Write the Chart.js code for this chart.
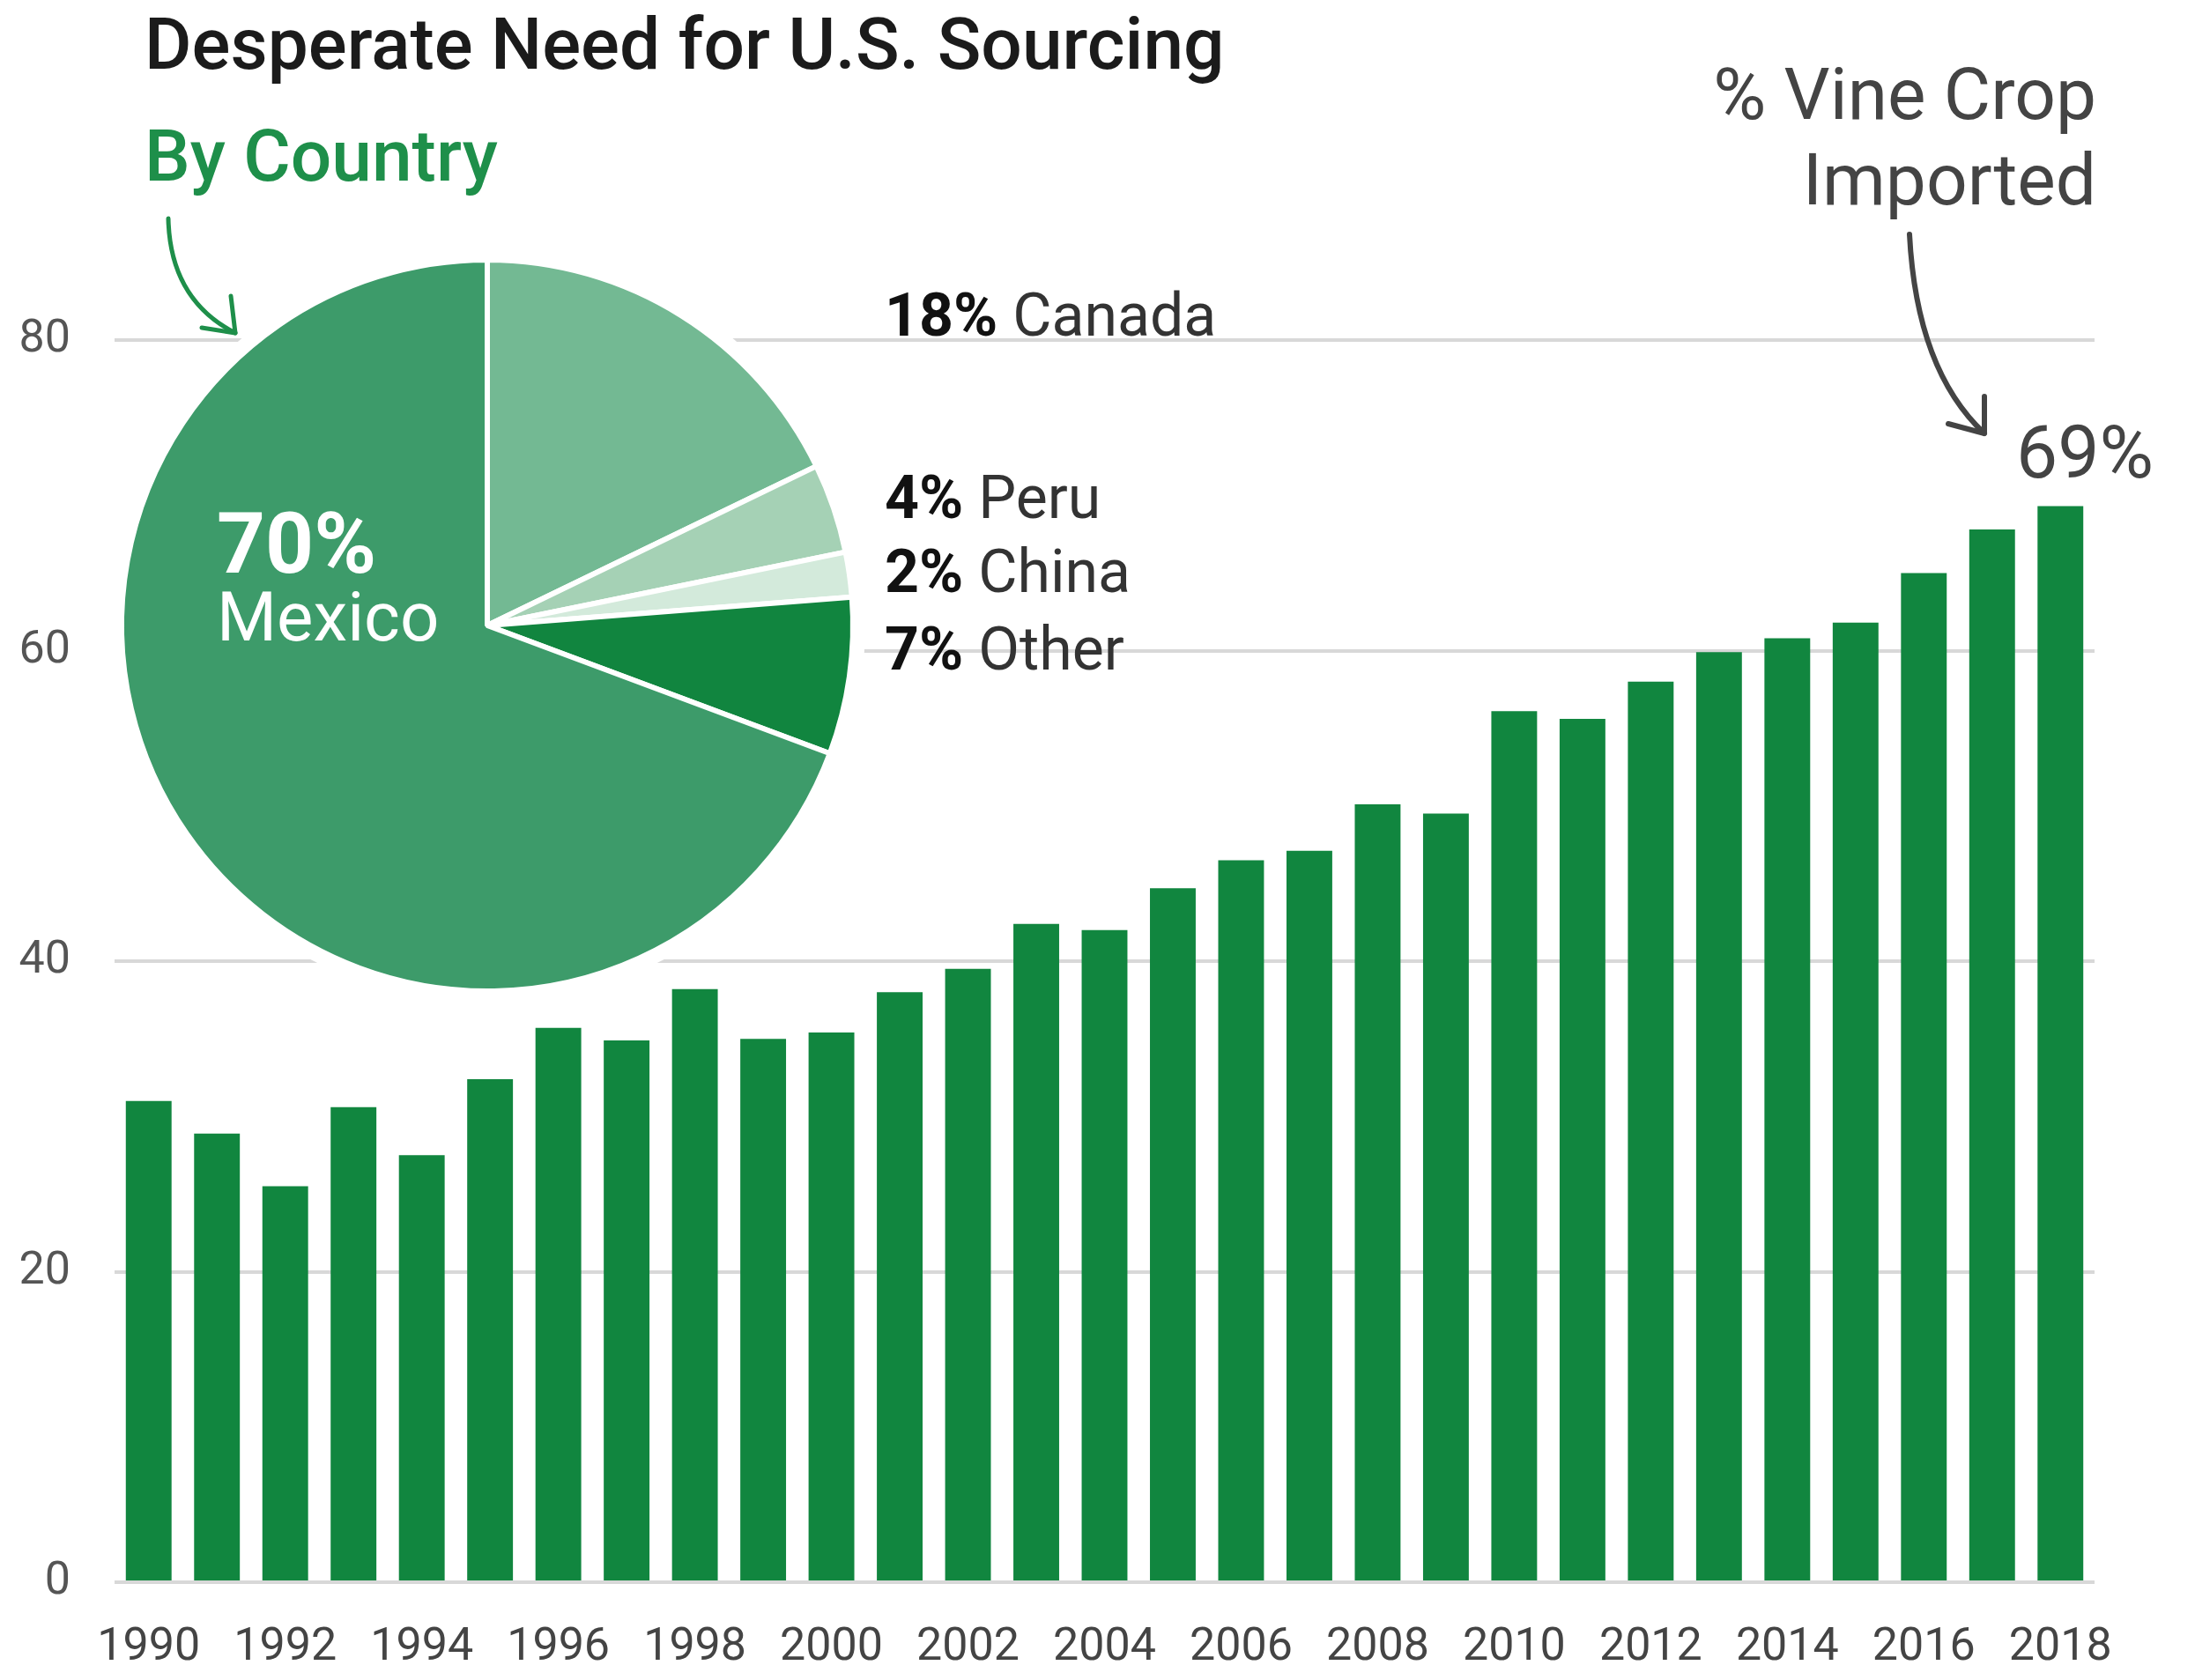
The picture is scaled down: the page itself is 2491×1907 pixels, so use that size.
<!DOCTYPE html>
<html>
<head>
<meta charset="utf-8">
<script src="https://cdn.jsdelivr.net/npm/chart.js@4.4.1/dist/chart.umd.min.js"></script>
<style>
  html, body { margin: 0; padding: 0; background: #fff; }
  #page { position: relative; width: 2491px; height: 1907px; overflow: hidden; font-family: Roboto, "Noto Sans", sans-serif; }
  #barChart { position: absolute; left: 0; top: 0; }
  #pieChart { position: absolute; left: 103px; top: 260px; }
  .txt { position: absolute; line-height: 1; white-space: nowrap; }
  #arrows { position: absolute; left: 0; top: 0; }
</style>
</head>
<body>
<div id="page">
  <canvas id="barChart" width="2491" height="1907"></canvas>
  <canvas id="pieChart" width="900" height="900"></canvas>
  <svg id="arrows" width="2491" height="1907">
    <g fill="none" stroke-linecap="round" stroke-linejoin="round">
      <path d="M191,248 Q193,340 267,378" stroke="#1e8f4a" stroke-width="5"/>
      <path d="M229,372 L267,378 L262,336" stroke="#1e8f4a" stroke-width="5"/>
      <path d="M2167,266 Q2175,420 2252,492" stroke="#444" stroke-width="6"/>
      <path d="M2211,481 L2252,492 L2252,450" stroke="#444" stroke-width="6"/>
    </g>
  </svg>
  <div class="txt" style="left:164px; top:9px; font-size:82px; font-weight:500; color:#1b1b1b;">Desperate Need for U.S. Sourcing</div>
  <div class="txt" style="left:164px; top:136px; font-size:82px; font-weight:500; color:#1e8f4a;">By Country</div>
  <div class="txt" style="right:112px; top:66px; font-size:82px; color:#444; text-align:right;">% Vine Crop<br><span style="display:inline-block; margin-top:15px;">Imported</span></div>
  <div id="lastLabel" class="txt" style="left:2288px; top:472px; font-size:84px; color:#444;"></div>
  <div id="pieLabels"></div>
</div>

<script>
// bar data: % of vine crop imported, by year
const years = ['1990', '1991', '1992', '1993', '1994', '1995', '1996', '1997', '1998', '1999',
               '2000', '2001', '2002', '2003', '2004', '2005', '2006', '2007', '2008', '2009',
               '2010', '2011', '2012', '2013', '2014', '2015', '2016', '2017', '2018'];
const importShare = [31.0, 28.9, 25.5, 30.6, 27.5, 32.4, 35.7, 34.9, 38.2, 35.0,
                     35.4, 38.0, 39.5, 42.4, 42.0, 44.7, 46.5, 47.1, 50.1, 49.5,
                     56.1, 55.6, 58.0, 59.9, 60.8, 61.8, 65.0, 67.8, 69.3];
const yTicks = [0, 20, 40, 60, 80];

// pie data: share by country
const countries = ['Canada', 'Peru', 'China', 'Other', 'Mexico'];
const countryShare = [18, 4, 2, 7, 70];
const sliceColors = ['#73b993', '#a5d1b5', '#d3eadb', '#11853f', '#3d9b6a'];

const barGreen = '#11863f';
const gridGray = '#d8d8d8';

// Bar chart
new Chart(document.getElementById('barChart'), {
    type: 'bar',
    data: {
        labels: years,
        datasets: [{
            data: importShare,
            backgroundColor: barGreen,
            borderWidth: 0,
            categoryPercentage: 1,
            barPercentage: 0.67
        }]
    },
    options: {
        responsive: false,
        animation: false,
        devicePixelRatio: 1,
        layout: { padding: { top: 386, right: 114, bottom: 0, left: 0 } },
        plugins: { legend: { display: false }, tooltip: { enabled: false } },
        scales: {
            x: {
                grid: { display: false },
                border: { display: false },
                ticks: {
                    autoSkip: false,
                    maxRotation: 0,
                    padding: 36,
                    color: '#444',
                    font: { family: 'Roboto', size: 52 },
                    callback: function(value, index) {
                        return index % 2 === 0 ? years[index] : '';
                    }
                },
                afterFit: function(axis) { axis.height = 111; }
            },
            y: {
                min: 0,
                max: 80,
                border: { display: false },
                grid: { color: gridGray, lineWidth: 4, drawTicks: false },
                ticks: {
                    padding: 50,
                    color: '#555',
                    font: { family: 'Roboto', size: 52 }
                },
                afterBuildTicks: function(axis) {
                    axis.ticks = yTicks.map(v => ({ value: v }));
                },
                afterFit: function(axis) { axis.width = 130; }
            }
        }
    }
});

// white halo behind the pie so gridlines stop short of it
const pieHalo = {
    id: 'pieHalo',
    beforeDatasetsDraw(chart) {
        const arc = chart.getDatasetMeta(0).data[0];
        if (!arc) return;
        const ctx = chart.ctx;
        ctx.save();
        ctx.fillStyle = '#fff';
        ctx.beginPath();
        ctx.arc(arc.x, arc.y, arc.outerRadius + 14, 0, Math.PI * 2);
        ctx.fill();
        ctx.restore();
    }
};

// Pie chart
new Chart(document.getElementById('pieChart'), {
    type: 'pie',
    data: {
        labels: countries,
        datasets: [{
            data: countryShare,
            backgroundColor: sliceColors,
            borderColor: '#fff',
            borderWidth: 6
        }]
    },
    options: {
        responsive: false,
        animation: false,
        devicePixelRatio: 1,
        layout: { padding: 32 },
        plugins: { legend: { display: false }, tooltip: { enabled: false } }
    },
    plugins: [pieHalo]
});

// Text labels
const labelBox = document.getElementById('pieLabels');
const sideTops = { Canada: 324, Peru: 531, China: 615, Other: 703 };
countries.forEach((name, i) => {
    const div = document.createElement('div');
    div.className = 'txt';
    if (name === 'Mexico') {
        div.style.cssText = 'left:246px; top:569px; color:#fff;';
        div.innerHTML = '<span style="font-size:96px; font-weight:700;">' + countryShare[i] + '%</span>' +
            '<br><span style="font-size:78px; display:inline-block; margin-top:-3px;">' + name + '</span>';
    } else {
        div.style.cssText = 'left:1004px; top:' + sideTops[name] + 'px; font-size:68px; color:#333;';
        div.innerHTML = '<b style="color:#111;">' + countryShare[i] + '%</b> ' + name;
    }
    labelBox.appendChild(div);
});

document.getElementById('lastLabel').textContent = Math.round(importShare[importShare.length - 1]) + '%';
</script>
</body>
</html>
